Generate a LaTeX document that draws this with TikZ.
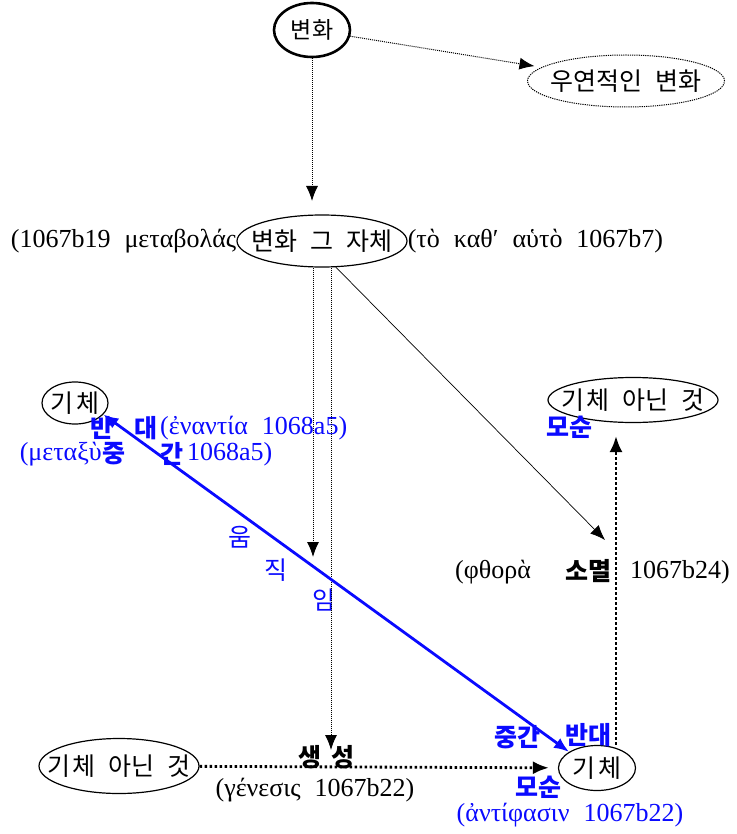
\documentclass[tikz,border=0pt]{standalone}
\usepackage{fontspec}
\setmainfont{Liberation Serif}
\newfontfamily\kr{Noto Sans CJK KR}
\usetikzlibrary{shapes.geometric, arrows.meta}
\definecolor{kblue}{RGB}{10,10,255}
\newcommand{\tname}[1]{\makebox[0pt]{#1}}
\newcommand{\wgap}{\hspace{13pt}}
\newcommand{\widesp}{\spaceskip=14pt\relax}
\tikzstyle{term} = [draw, ellipse, inner sep=0pt, line width=1.2pt, font=\kr\fontsize{25}{28}\selectfont]
\tikzstyle{arrow} = [densely dotted, line width=1pt, -{Latex[length=15pt,width=12pt]}]
\tikzstyle{thickarrow} = [line width=2.8pt, dash pattern=on 2.6pt off 2.4pt, -{Latex[length=16pt,width=13pt]}]
\tikzstyle{bluelbl} = [text=kblue, font=\kr\bfseries\fontsize{25}{28}\selectfont]
\tikzstyle{bluetxt} = [text=kblue, font=\kr\fontsize{25}{28}\selectfont]

\begin{document}
\begin{tikzpicture}[x=1pt, y=-1pt, every node/.style={inner sep=0pt, font=\fontsize{26}{30}\selectfont\widesp}]
        \useasboundingbox (0,0) rectangle (736,834);
        % Terms
        \node[term, line width=2.6pt, minimum width=76pt, minimum height=54pt, font=\kr\fontsize{23}{26}\selectfont] (change) at (312,30) {\tname{변화}};
        \node[term, densely dotted, line width=1pt, minimum width=197pt, minimum height=52pt] (accid) at (626,81) {\tname{우연적인\wgap 변화}};
        \node[term, minimum width=170pt, minimum height=52pt] (itself) at (322,241) {\tname{변화\wgap 그\wgap 자체}};
        \node[term, minimum width=66pt, minimum height=42pt] (substL) at (75,403) {\tname{기\hspace{3pt}체}};
        \node[term, minimum width=170pt, minimum height=45pt] (notsubstR) at (633,400) {\tname{기\hspace{3pt}체\wgap 아닌\wgap 것}};
        \node[term, minimum width=160pt, minimum height=55pt] (notsubstL) at (119,766) {\tname{기\hspace{3pt}체\wgap 아닌\wgap 것}};
        \node[term, minimum width=77pt, minimum height=45pt] (substR) at (597,768) {\tname{기\hspace{3pt}체}};

        % Labels
        \node[anchor=east] (metabolas) at (itself.west) {(1067b19 μεταβολάς};
        \node[anchor=west] (kathauto) at (itself.east) {(τὸ καθ′ αὑτὸ 1067b7)};
        \node[bluelbl] (ban) at (102,428) {반};
        \node[bluelbl] (dae) at (146,428) {대};
        \node[anchor=west, text=kblue] (enantia) at (160,428) {(ἐναντία 1068a5)};
        \node[anchor=east, text=kblue] (metaxu) at (102,454) {(μεταξὺ};
        \node[bluelbl] (jung) at (114,454) {중};
        \node[bluelbl] (gan) at (172,454) {간};
        \node[anchor=west, text=kblue] (metaxuref) at (187,454) {1068a5)};
        \node[bluetxt] (um) at (240,537) {움};
        \node[bluetxt] (jik) at (276,570) {직};
        \node[bluetxt] (im) at (324,600) {임};
        \node[anchor=west] (phthora) at (455,572) {(φθορὰ};
        \node[font=\kr\bfseries\fontsize{25}{28}\selectfont] (decayK) at (588,571) {소멸};
        \node[anchor=west] (phthoraref) at (630,572) {1067b24)};
        \node[bluelbl] (contraR) at (569,427) {모순};
        \node[bluelbl] (midR) at (517,737) {중간};
        \node[bluelbl] (oppR) at (588,735) {반대};
        \node[bluelbl] (contraB) at (538,787) {모순};
        \node[text=kblue] (antiphasin) at (570,815) {(ἀντίφασιν 1067b22)};
        \node[font=\kr\bfseries\fontsize{25}{28}\selectfont] (genesisK) at (326,757) {생\hspace{10pt}성};
        \node (genesis) at (315,790) {(γένεσις 1067b22)};

        % Free ends
        \coordinate (itselfTip) at (312,201);
        \coordinate (moveTip) at (313,557);
        \coordinate (genTip) at (331,750);
        \coordinate (decayTip) at (605,540);
        \coordinate (contraTip) at (616,436);

        % Connectors
        \draw[arrow, shorten >=7pt] (change) -- (accid);
        \draw[arrow] (change.south -| itselfTip) -- (itselfTip);
        \draw[arrow] (itself.south -| moveTip) -- (moveTip);
        \draw[arrow] (itself.south -| genTip) -- (genTip);
        \draw[arrow, line width=0.7pt, solid] (itself.-62) -- (decayTip);
        \draw[thickarrow, shorten >=9pt] (notsubstL) -- (substR);
        \draw[thickarrow] (substR.north -| contraTip) -- (contraTip);
        \draw[line width=2.8pt, kblue, {Latex[length=15pt,width=12pt]}-{Latex[length=15pt,width=12pt]}] (substL.-22) -- (substR.150);
\end{tikzpicture}
\end{document}
